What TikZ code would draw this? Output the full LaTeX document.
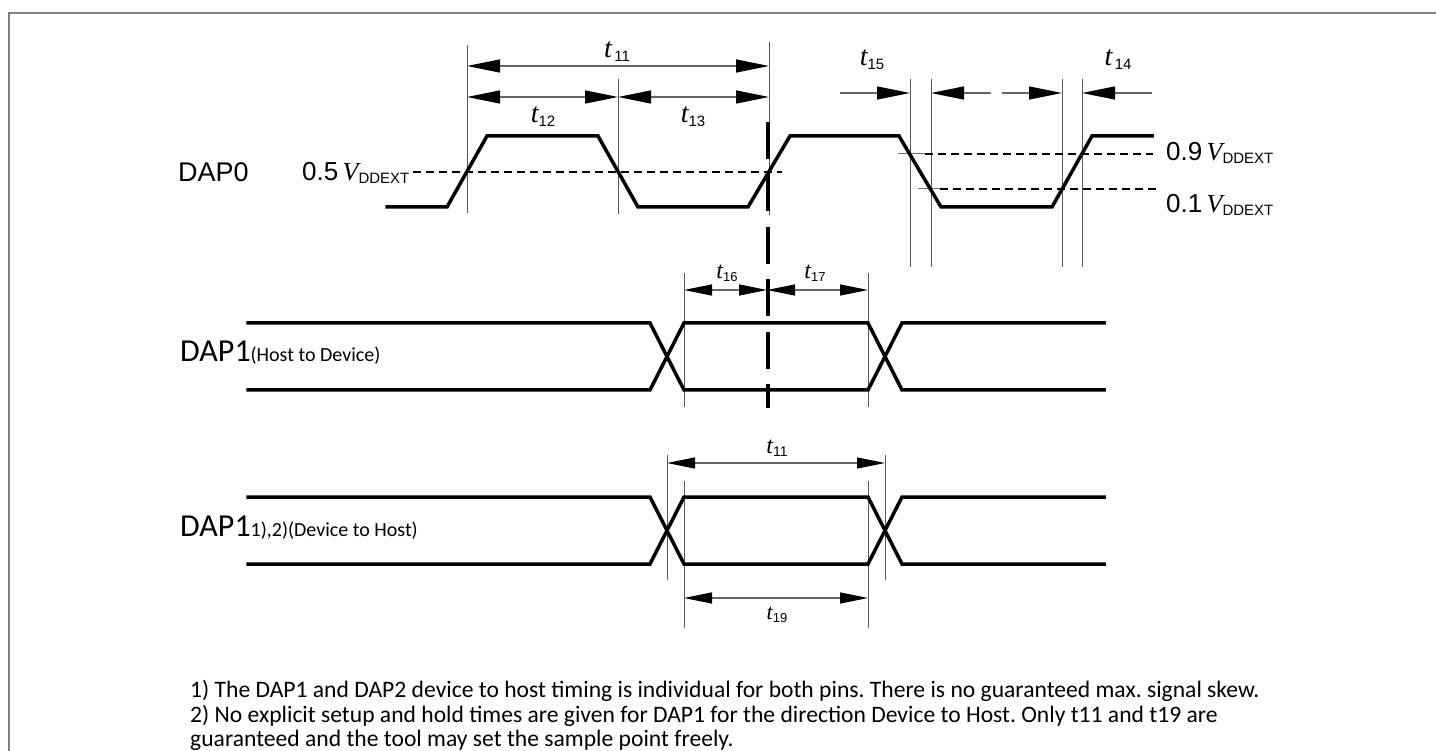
\documentclass[tikz,border=0pt]{standalone}
\usepackage{fontspec}
\setmainfont{Liberation Sans}
\newfontfamily\calfont{Carlito}
\newfontfamily\serfont{Liberation Serif}
\usetikzlibrary{arrows.meta}
\frenchspacing
\newcommand{\tlab}[4]{{\fontsize{#1}{#1}\selectfont\serfont\itshape t}\raisebox{-#3pt}{\fontsize{#2}{#2}\selectfont #4}}
\newcommand{\vdd}{{\serfont\itshape V}\raisebox{-3pt}{\fontsize{15}{15}\selectfont DDEXT}}
\begin{document}
\begin{tikzpicture}[x=1pt,y=-1pt,
  sig/.style={line width=3.5pt, line join=miter, line cap=rect},
  guide/.style={line width=1pt, draw=black!65},
  level/.style={line width=1.4pt, dash pattern=on 8pt off 5pt},
  thinlevel/.style={line width=1pt, draw=black!55},
  dim/.style={line width=1.2pt, draw=black!60},
  bighead/.tip={Triangle[length=33pt,width=13pt,color=black]},
  midhead/.tip={Triangle[length=28pt,width=11pt,color=black]},
  bigdim/.style={dim, bighead-bighead},
  middim/.style={dim, midhead-midhead},
  bigone/.style={dim, -bighead},
  lbl/.style={inner sep=0pt},
  signame/.style={inner sep=0pt, anchor=base west, font=\fontsize{27}{27}\selectfont},
  calname/.style={inner sep=0pt, anchor=base west, font=\calfont\fontsize{32}{32}\selectfont},
  note/.style={inner sep=0pt, anchor=base west, font=\calfont\fontsize{23.6}{23.6}\selectfont}
]
\useasboundingbox (0,0) rectangle (1436,751);
% frame
\draw[draw=black!50, line width=2pt] (9,751) -- (9,13) -- (1436,13);

% ---------- DAP0 ----------
\node[signame] (dap0) at (178,182) {DAP0};
\node[inner sep=0pt, anchor=base west, font=\fontsize{26}{26}\selectfont] (half) at (302,181) {0.5\,\vdd};
\node[inner sep=0pt, anchor=base west, font=\fontsize{26}{26}\selectfont] (nine) at (1166,161) {0.9\,\vdd};
\node[inner sep=0pt, anchor=base west, font=\fontsize{26}{26}\selectfont] (one) at (1166,213) {0.1\,\vdd};

% guides
\draw[guide] (467,45) -- (467,213);
\draw[guide] (618,79) -- (618,214);
\draw[guide] (769,42) -- (769,215);
\draw[guide] (910,79) -- (910,267);
\draw[guide] (931,79) -- (931,267);
\draw[guide] (1062,79) -- (1062,267);
\draw[guide] (1082,79) -- (1082,267);

% levels
\draw[level] (413,172) -- (782,172);
\draw[thinlevel] (898,154) -- (925,154);
\draw[level] (925,154) -- (1153,154);
\draw[thinlevel] (918,189) -- (940,189);
\draw[level] (940,189) -- (1160,189);

% waveform
\draw[sig] (387,207) -- (447,207) -- (487,136) -- (598,136) -- (638,207) -- (748,207)
  -- (790,136) -- (899,136) -- (941,207) -- (1052,207) -- (1092,136) -- (1152,136);

% dimension arrows
\draw[bigdim] (467,66) -- (769,66);
\draw[bigdim] (467,97) -- (618,97);
\draw[bigdim] (618,97) -- (769,97);
\node[lbl] (t11a) at (617,52) {\tlab{28}{15}{4}{\,11}};
\node[lbl] (t12) at (543,117) {\tlab{28}{15}{4}{12}};
\node[lbl] (t13) at (693,117) {\tlab{28}{15}{4}{13}};

\draw[bigone] (840,93) -- (910,93);
\draw[bigone] (991,93) -- (931,93);
\draw[bigone] (1002,93) -- (1062,93);
\draw[bigone] (1152,93) -- (1082,93);
\node[lbl] (t15) at (872,60) {\tlab{28}{15}{4}{15}};
\node[lbl] (t14) at (1118,60) {\tlab{28}{15}{4}{\,14}};

% sampling line
\draw[line width=4.5pt, dash pattern=on 37pt off 15.5pt] (768,122) -- (768,408);

% ---------- DAP1 Host to Device ----------
\node[calname] (dap1a) at (180,362) {DAP1{\fontsize{20}{20}\selectfont(Host to Device)}};
\draw[guide] (684,273) -- (684,407);
\draw[guide] (868,273) -- (868,407);
\draw[sig] (248,323) -- (650,323) -- (684,390) -- (868,390) -- (902,323) -- (1104,323);
\draw[sig] (248,390) -- (650,390) -- (684,323) -- (868,323) -- (902,390) -- (1104,390);
\draw[middim] (684,290) -- (767,290);
\draw[middim] (767,290) -- (868,290);
\node[lbl] (t16) at (727,273) {\tlab{24}{13}{3}{16}};
\node[lbl] (t17) at (815,273) {\tlab{24}{13}{3}{17}};

% ---------- DAP1 Device to Host ----------
\node[calname] (dap1b) at (180,536) {DAP1{\fontsize{20}{20}\selectfont 1),2)(Device to Host)}};
\draw[guide] (667,455) -- (667,580);
\draw[guide] (885,455) -- (885,580);
\draw[guide] (684,481) -- (684,628);
\draw[guide] (868,481) -- (868,628);
\draw[sig] (248,497) -- (650,497) -- (684,564) -- (868,564) -- (902,497) -- (1104,497);
\draw[sig] (248,564) -- (650,564) -- (684,497) -- (868,497) -- (902,564) -- (1104,564);
\draw[middim] (667,463) -- (885,463);
\draw[middim] (684,598) -- (868,598);
\node[lbl] (t11b) at (777,448) {\tlab{24}{14}{3}{11}};
\node[lbl] (t19) at (777,615) {\tlab{22}{13}{3}{19}};

% ---------- notes ----------
\node[note] (n1) at (190,697) {1) The DAP1 and DAP2 device to host timing is individual for both pins. There is no guaranteed max. signal skew.};
\node[note] (n2) at (190,722) {2) No explicit setup and hold times are given for DAP1 for the direction Device to Host. Only t11 and t19 are};
\node[note] (n3) at (190,746) {guaranteed and the tool may set the sample point freely.};
\end{tikzpicture}
\end{document}
